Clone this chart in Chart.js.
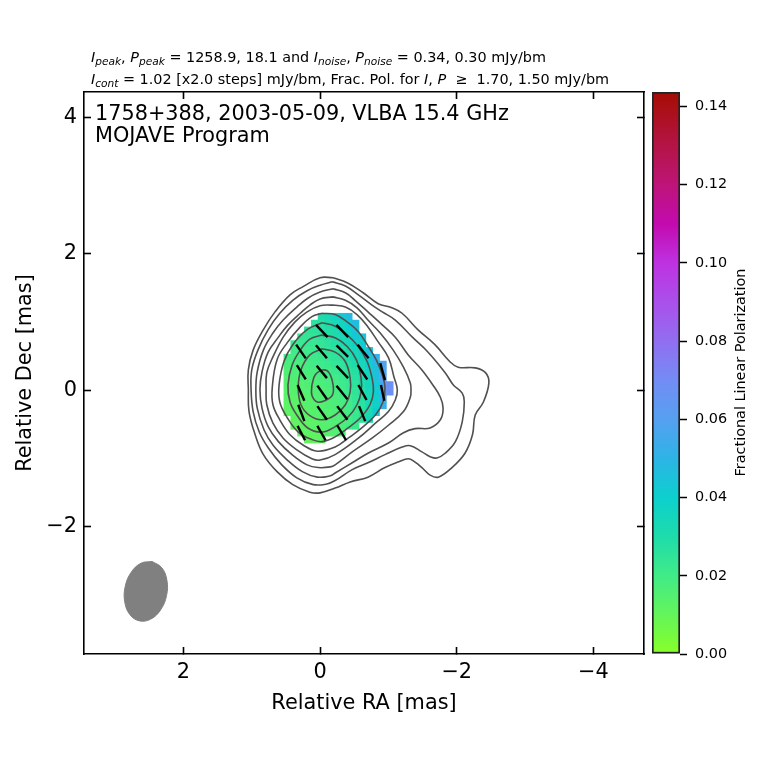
<!DOCTYPE html>
<html><head><meta charset="utf-8">
<style>html,body{margin:0;padding:0;background:#fff}canvas{position:absolute;left:0;top:0}</style>
<script src="https://cdn.jsdelivr.net/npm/chart.js@4/dist/chart.umd.min.js"></script>
</head><body>
<canvas id="map" width="760" height="760"></canvas>
<canvas id="cbar" width="760" height="760"></canvas>
<script>
const xTicks=[2,0,-2,-4];
const yTicks=[4,2,0,-2];
const cbarTicks=[0,0.02,0.04,0.06,0.08,0.10,0.12,0.14];
const cbarStopValues=[0,0.01,0.02,0.03,0.04,0.05,0.06,0.07,0.08,0.09,0.10,0.11,0.12,0.13,0.14,0.1437];
const cbarStopColors=[[136,255,40],[100,245,90],[65,235,135],[30,220,170],[12,208,205],[45,180,230],[85,160,240],[115,140,245],[145,110,240],[170,80,235],[190,50,225],[195,10,175],[190,20,120],[180,20,70],[170,15,20],[165,10,5]];

const c1=[[-0.19,1.65],[-0.41,1.57],[-0.63,1.43],[-0.85,1.27],[-1.05,1.21],[-1.20,1.13],[-1.43,0.89],[-1.68,0.67],[-1.90,0.42],[-2.02,0.34],[-2.27,0.33],[-2.42,0.26],[-2.47,0.11],[-2.39,-0.17],[-2.27,-0.36],[-2.23,-0.65],[-2.12,-0.92],[-1.93,-1.13],[-1.73,-1.27],[-1.61,-1.24],[-1.49,-1.13],[-1.39,-1.05],[-1.29,-1.00],[-1.14,-1.05],[-0.95,-1.13],[-0.70,-1.27],[-0.44,-1.34],[-0.22,-1.43],[0,-1.50],[0.15,-1.49],[0.40,-1.38],[0.63,-1.19],[0.83,-0.94],[0.95,-0.65],[1.04,-0.31],[1.05,0.01],[1.05,0.30],[0.98,0.59],[0.83,0.89],[0.66,1.15],[0.44,1.40],[0.25,1.52],[0,1.65],[-0.19,1.65]];
const c2=[[-0.18,1.59],[-0.37,1.53],[-0.56,1.40],[-0.76,1.25],[-0.91,1.15],[-1.10,1.03],[-1.35,0.78],[-1.58,0.56],[-1.83,0.26],[-1.95,0.08],[-2.08,-0.04],[-2.11,-0.17],[-2.08,-0.46],[-1.98,-0.75],[-1.83,-0.92],[-1.71,-0.99],[-1.61,-0.97],[-1.49,-0.90],[-1.32,-0.81],[-1.20,-0.83],[-0.95,-0.94],[-0.70,-1.06],[-0.47,-1.16],[-0.22,-1.32],[-0.10,-1.37],[0.10,-1.38],[0.34,-1.28],[0.56,-1.09],[0.76,-0.84],[0.89,-0.61],[0.98,-0.31],[1.01,0.01],[1.00,0.30],[0.91,0.59],[0.76,0.89],[0.59,1.13],[0.40,1.32],[0.19,1.46],[0,1.54],[-0.18,1.59]];
const c3=[[-0.19,1.49],[-0.37,1.43],[-0.51,1.32],[-0.70,1.15],[-0.91,0.96],[-1.10,0.78],[-1.29,0.52],[-1.49,0.30],[-1.65,0.08],[-1.76,-0.10],[-1.80,-0.26],[-1.76,-0.43],[-1.61,-0.55],[-1.39,-0.56],[-1.22,-0.62],[-1.00,-0.77],[-0.70,-0.92],[-0.47,-1.06],[-0.22,-1.21],[-0.15,-1.25],[0.04,-1.27],[0.26,-1.19],[0.48,-1.02],[0.69,-0.80],[0.82,-0.58],[0.92,-0.26],[0.94,0.01],[0.92,0.27],[0.83,0.59],[0.69,0.84],[0.54,1.03],[0.34,1.22],[0.18,1.35],[0,1.44],[-0.19,1.49]];
const c4=[[-0.19,1.37],[-0.37,1.32],[-0.54,1.21],[-0.70,1.03],[-0.88,0.84],[-1.07,0.59],[-1.22,0.34],[-1.32,0.11],[-1.33,0.01],[-1.32,-0.10],[-1.22,-0.31],[-1.00,-0.51],[-0.76,-0.70],[-0.47,-0.90],[-0.22,-1.09],[-0.15,-1.12],[0.03,-1.13],[0.19,-1.09],[0.41,-0.94],[0.61,-0.75],[0.76,-0.53],[0.85,-0.26],[0.88,0.01],[0.85,0.27],[0.76,0.56],[0.61,0.78],[0.47,0.96],[0.29,1.13],[0.15,1.25],[0,1.34],[-0.19,1.37]];
const c5=[[-0.19,1.25],[-0.37,1.22],[-0.54,1.11],[-0.70,0.93],[-0.85,0.71],[-1.00,0.48],[-1.08,0.20],[-1.13,0.01],[-1.10,-0.14],[-1.00,-0.31],[-0.81,-0.48],[-0.56,-0.70],[-0.22,-0.94],[0,-1.02],[0.12,-1.00],[0.34,-0.87],[0.54,-0.70],[0.69,-0.48],[0.78,-0.21],[0.79,0.01],[0.78,0.26],[0.69,0.49],[0.54,0.78],[0.37,1.00],[0.19,1.15],[0,1.24],[-0.19,1.25]];
const c6=[[-0.03,1.13],[-0.22,1.11],[-0.40,1.00],[-0.56,0.86],[-0.69,0.67],[-0.82,0.45],[-0.91,0.23],[-0.95,0.04],[-0.92,-0.17],[-0.81,-0.36],[-0.61,-0.55],[-0.41,-0.70],[-0.22,-0.83],[0.04,-0.89],[0.25,-0.80],[0.44,-0.65],[0.59,-0.43],[0.69,-0.21],[0.70,0.04],[0.63,0.45],[0.48,0.70],[0.29,0.93],[0.12,1.08],[-0.03,1.13]];
const c7=[[-0.03,0.99],[-0.22,0.94],[-0.40,0.81],[-0.56,0.64],[-0.69,0.42],[-0.76,0.18],[-0.78,-0.02],[-0.73,-0.21],[-0.59,-0.40],[-0.41,-0.55],[-0.22,-0.68],[-0.03,-0.75],[0.12,-0.72],[0.32,-0.61],[0.48,-0.40],[0.59,-0.17],[0.60,0.08],[0.53,0.42],[0.40,0.67],[0.19,0.89],[-0.03,0.99]];
const c8=[[-0.03,0.81],[-0.22,0.77],[-0.40,0.64],[-0.53,0.45],[-0.60,0.18],[-0.60,-0.02],[-0.54,-0.21],[-0.41,-0.39],[-0.22,-0.53],[-0.03,-0.61],[0.18,-0.55],[0.34,-0.36],[0.44,-0.17],[0.47,0.08],[0.41,0.37],[0.29,0.59],[0.15,0.75],[-0.03,0.81]];
const c9=[[-0.03,0.61],[-0.22,0.56],[-0.37,0.42],[-0.44,0.18],[-0.44,-0.02],[-0.37,-0.21],[-0.22,-0.36],[-0.03,-0.43],[0.15,-0.37],[0.28,-0.21],[0.32,0.04],[0.28,0.30],[0.15,0.52],[-0.03,0.61]];
const c10=[[0.12,0.08],[0.07,0.23],[-0.04,0.30],[-0.13,0.26],[-0.19,0.08],[-0.18,-0.07],[-0.07,-0.15],[0.04,-0.17],[0.12,-0.07],[0.12,0.08]];

const beamOutline=[[2.457,-2.505],[2.622,-2.531],[2.766,-2.666],[2.853,-2.876],[2.858,-3.102],[2.782,-3.285],[2.643,-3.375],[2.478,-3.349],[2.334,-3.214],[2.247,-3.005],[2.242,-2.778],[2.318,-2.595],[2.457,-2.505]];

const sticks=[
[0.06,0.96,-0.11,0.78],[-0.24,0.96,-0.41,0.78],
[0.35,0.67,0.21,0.47],[0.06,0.66,-0.10,0.47],[-0.24,0.66,-0.41,0.49],[-0.55,0.67,-0.71,0.47],
[0.34,0.37,0.21,0.16],[0.05,0.36,-0.10,0.18],[-0.24,0.36,-0.41,0.18],[-0.55,0.37,-0.69,0.16],[-0.88,0.40,-0.95,0.15],
[0.33,0.08,0.23,-0.15],[0.04,0.07,-0.10,-0.13],[-0.24,0.07,-0.40,-0.13],[-0.56,0.08,-0.68,-0.14],[-0.89,0.08,-0.94,-0.15],
[0.32,-0.21,0.23,-0.45],[0.04,-0.23,-0.10,-0.43],[-0.25,-0.23,-0.40,-0.43],[-0.57,-0.23,-0.66,-0.45],
[0.33,-0.52,0.22,-0.73],[0.04,-0.52,-0.08,-0.73],[-0.25,-0.51,-0.38,-0.73]];

const polRowY=[1.08,0.98,0.88,0.78,0.68,0.58,0.48,0.38,0.28,0.18,0.08,-0.02,-0.12,-0.22,-0.32,-0.42,-0.52,-0.62,-0.72];
const polRowFirstX=[-0.02,0.08,0.18,0.28,0.38,0.38,0.48,0.48,0.48,0.48,0.48,0.48,0.48,0.48,0.48,0.38,0.38,0.28,0.18];
const polValues=[
[.030,.033,.037,.042,.048],
[.027,.028,.030,.033,.036,.041,.047],
[.025,.026,.027,.029,.031,.035,.039,.044],
[.024,.024,.024,.026,.028,.030,.033,.037,.042,.044],
[.022,.022,.023,.023,.024,.026,.028,.031,.034,.037,.041],
[.020,.021,.021,.022,.023,.025,.026,.028,.031,.034,.039,.046],
[.019,.019,.020,.020,.021,.022,.024,.025,.027,.030,.033,.037,.044,.052],
[.017,.018,.018,.019,.020,.021,.022,.024,.025,.028,.030,.034,.040,.048,.058],
[.016,.017,.017,.018,.018,.019,.020,.022,.024,.026,.028,.032,.038,.046,.058],
[.015,.016,.016,.017,.017,.018,.019,.020,.022,.024,.027,.031,.036,.045,.060],
[.014,.015,.015,.016,.016,.017,.018,.019,.021,.023,.026,.030,.035,.043,.055,.068],
[.013,.014,.015,.015,.016,.016,.017,.018,.020,.022,.025,.029,.034,.041,.053,.068],
[.013,.013,.014,.014,.015,.016,.016,.017,.019,.021,.024,.028,.033,.040,.055],
[.012,.013,.013,.014,.014,.015,.016,.017,.018,.020,.023,.027,.032,.039,.053],
[.012,.012,.013,.013,.014,.015,.015,.016,.018,.020,.022,.026,.032,.042],
[.012,.012,.013,.013,.014,.015,.016,.017,.019,.022,.026,.034],
[.011,.012,.012,.013,.014,.015,.016,.017,.019,.022],
[.011,.012,.012,.013,.014,.015,.016],
[.011,.011,.012]];

const FONT='"DejaVu Sans"';
function polColor(v){
  let i=0;
  while(i<cbarStopValues.length-2 && v>cbarStopValues[i+1]) i++;
  const a=cbarStopValues[i],b=cbarStopValues[i+1],t=Math.min(1,(v-a)/(b-a));
  const A=cbarStopColors[i],B=cbarStopColors[i+1];
  return 'rgb('+A.map((c,k)=>Math.round(c+(B[k]-c)*t)).join(',')+')';
}
const cellPoints=[],cellColors=[];
polValues.forEach((row,j)=>row.forEach((v,k)=>{
  cellPoints.push({x:polRowFirstX[j]-0.1*k,y:polRowY[j]});
  cellColors.push(polColor(v));
}));
const toXY=a=>a.map(p=>({x:p[0],y:p[1]}));
const contourDs=[c1,c2,c3,c4,c5,c6,c7,c8,c9,c10].map(c=>({data:toXY(c),showLine:true,tension:0.4,pointRadius:0,borderColor:'#505050',borderWidth:1.6,fill:false,order:1}));
const stickDs=sticks.map(s=>({data:[{x:s[0],y:s[1]},{x:s[2],y:s[3]}],showLine:true,pointRadius:0,borderColor:'#000',borderWidth:2.4,fill:false,order:0}));
const cellDs={data:cellPoints,showLine:false,pointStyle:'rect',pointRadius:5.25,pointBorderWidth:0,borderWidth:0,backgroundColor:cellColors,pointBackgroundColor:cellColors,order:3};
const beamDs={data:toXY(beamOutline),showLine:true,tension:0.4,pointRadius:0,borderColor:'#808080',borderWidth:1,backgroundColor:'#808080',fill:'shape',order:2};

function drawRuns(ctx,x,y,runs){
  ctx.textAlign='left';ctx.textBaseline='alphabetic';ctx.fillStyle='#000';
  for(const r of runs){
    const sub=r[1]==='s', it=sub||r[1]==='i';
    ctx.font=(it?'italic ':'')+(sub?'10.6px ':'14.4px ')+FONT;
    ctx.fillText(r[0],x,sub?y+3:y);
    x+=ctx.measureText(r[0]).width;
  }
}
const textPlugin={id:'texts',afterDraw(chart){
  const ctx=chart.ctx;ctx.save();
  drawRuns(ctx,91,62,[['I','i'],['peak','s'],[', ',''],['P','i'],['peak','s'],[' = 1258.9, 18.1 and ',''],['I','i'],['noise','s'],[', ',''],['P','i'],['noise','s'],[' = 0.34, 0.30 mJy/bm','']]);
  drawRuns(ctx,91,84,[['I','i'],['cont','s'],[' = 1.02 [x2.0 steps] mJy/bm, Frac. Pol. for ',''],['I','i'],[', ',''],['P','i'],['  \u2265  1.70, 1.50 mJy/bm','']]);
  ctx.font='20.8px '+FONT;ctx.fillStyle='#000';ctx.textAlign='left';ctx.textBaseline='alphabetic';
  ctx.fillText('1758+388, 2003-05-09, VLBA 15.4 GHz',95,120);
  ctx.fillText('MOJAVE Program',95,142);
  ctx.restore();
}};
const minus=v=>String(v).replace('-','\u2212');
const tickFont={family:FONT,size:20.83};
const gridOpt={drawOnChartArea:false,drawTicks:true,tickLength:-7,tickWidth:1.6,tickColor:'#000'};
const borderOpt={display:true,width:1.6,color:'#000'};
Chart.defaults.animation=false;
new Chart(document.getElementById('map'),{
  type:'scatter',
  data:{datasets:[...stickDs,...contourDs,beamDs,cellDs]},
  options:{responsive:false,devicePixelRatio:1,
    layout:{padding:{left:13,right:116,top:92,bottom:44}},
    plugins:{legend:{display:false},tooltip:{enabled:false},title:{display:false}},
    scales:{
      x:{type:'linear',reverse:true,min:-4.74,max:3.455,position:'bottom',
        afterBuildTicks:a=>{a.ticks=xTicks.map(v=>({value:v}))},
        afterFit:a=>{a.height=62},
        grid:gridOpt,border:borderOpt,
        ticks:{font:tickFont,color:'#000',padding:13,maxRotation:0,callback:minus},
        title:{display:true,text:'Relative RA [mas]',font:{family:FONT,size:20.83},color:'#000',padding:0}},
      x2:{type:'linear',reverse:true,min:-4.74,max:3.455,position:'top',
        afterBuildTicks:a=>{a.ticks=xTicks.map(v=>({value:v}))},
        afterFit:a=>{a.height=0},
        grid:gridOpt,border:borderOpt,ticks:{display:false}},
      y:{type:'linear',min:-3.86,max:4.37,position:'left',
        afterBuildTicks:a=>{a.ticks=yTicks.map(v=>({value:v}))},
        afterFit:a=>{a.width=71},
        grid:gridOpt,border:borderOpt,
        ticks:{font:tickFont,color:'#000',padding:14,callback:minus},
        title:{display:true,text:'Relative Dec [mas]',font:{family:FONT,size:20.83},color:'#000',padding:0}},
      y2:{type:'linear',min:-3.86,max:4.37,position:'right',
        afterBuildTicks:a=>{a.ticks=yTicks.map(v=>({value:v}))},
        afterFit:a=>{a.width=0},
        grid:gridOpt,border:borderOpt,ticks:{display:false}}
    }},
  plugins:[textPlugin]
});
const cbarLabelPlugin={id:'cbarLabel',afterDraw(chart){
  const ctx=chart.ctx;ctx.save();
  ctx.translate(741,372.5);ctx.rotate(-Math.PI/2);
  ctx.font='14.4px '+FONT;ctx.fillStyle='#000';ctx.textAlign='center';ctx.textBaseline='middle';
  ctx.fillText('Fractional Linear Polarization',0,0);
  ctx.restore();
}};
new Chart(document.getElementById('cbar'),{
  type:'bar',
  data:{labels:['Fractional Linear Polarization'],datasets:[{
    data:[[0,0.1437]],
    barPercentage:1,categoryPercentage:1,
    borderColor:'#222',borderWidth:2,borderSkipped:false,
    backgroundColor(c){
      const chart=c.chart,s=chart.scales.y;
      if(!chart.chartArea||!s)return '#fff';
      const y0=s.getPixelForValue(0),y1=s.getPixelForValue(0.1437);
      if(!isFinite(y0)||!isFinite(y1))return '#fff';
      const g=chart.ctx.createLinearGradient(0,y0,0,y1);
      cbarStopValues.forEach((v,i)=>g.addColorStop(v/0.1437,'rgb('+cbarStopColors[i].join(',')+')'));
      return g;
    }}]},
  options:{responsive:false,devicePixelRatio:1,
    layout:{padding:{left:652,right:20,top:92,bottom:106}},
    plugins:{legend:{display:false},tooltip:{enabled:false}},
    scales:{
      x:{display:false},
      y:{type:'linear',min:0,max:0.1437,position:'right',
        afterBuildTicks:a=>{a.ticks=cbarTicks.map(v=>({value:v}))},
        afterFit:a=>{a.width=60},
        border:{display:false},
        grid:{drawOnChartArea:false,drawTicks:true,tickLength:7,tickWidth:1.5,tickColor:'#000'},
        ticks:{font:{family:FONT,size:14.4},color:'#000',padding:8,callback:v=>Number(v).toFixed(2)}}
    }},
  plugins:[cbarLabelPlugin]
});
</script>
</body></html>
